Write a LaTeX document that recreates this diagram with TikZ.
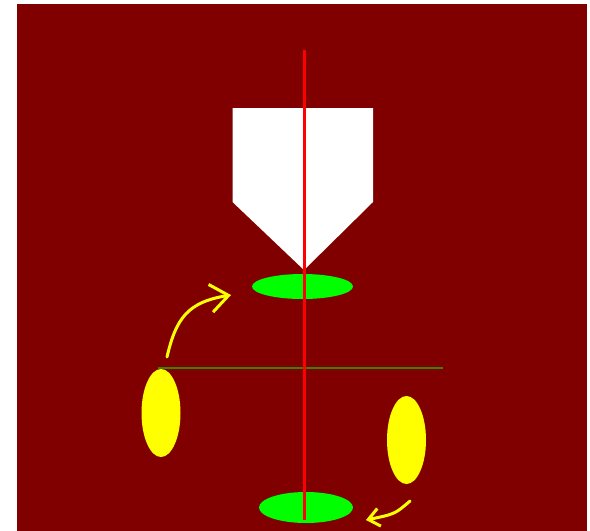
\documentclass[tikz,border=0pt]{standalone}
\usetikzlibrary{arrows.meta,shapes.geometric}
\definecolor{bgred}{RGB}{128,0,0}
\definecolor{brightgreen}{RGB}{0,255,0}
\definecolor{olivegreen}{RGB}{60,130,0}
\definecolor{yel}{RGB}{255,255,0}
\begin{document}
\begin{tikzpicture}[x=1pt,y=-1pt,
  greenell/.style={ellipse,fill=brightgreen,draw=none,inner sep=0pt},
  yellowell/.style={ellipse,fill=yel,draw=none,inner sep=0pt,minimum width=39pt,minimum height=88pt},
  yarrow/.style={draw=yel,line width=3pt,line cap=round}]
\useasboundingbox (0,0) rectangle (590,531);
\fill[white] (0,0) rectangle (590,531);
\fill[bgred] (17,4) rectangle (587,531);
% white pentagon
\fill[white] (232.5,108) -- (373,108) -- (373,202) -- (304,270) -- (232.5,202) -- cycle;
% green ellipses
\node[greenell,minimum width=101pt,minimum height=25pt] (gtop) at (302.5,286.5) {};
\node[greenell,minimum width=94pt,minimum height=31pt] (gbot) at (306,507.5) {};
% yellow ellipses
\node[yellowell] (yleft) at (161,413) {};
\node[yellowell] (yright) at (406.5,440) {};
% green horizontal line
\coordinate (hl) at (158,368);
\coordinate (hr) at (443,368);
\draw[olivegreen,line width=1.5pt] (hl) -- (hr);
% red axis
\coordinate (rtop) at (304.5,50);
\coordinate (rbot) at (304.5,520);
\draw[red,line width=2.5pt] (rtop) -- (rbot);
% yellow arrows
\coordinate (a1s) at (167,357);
\coordinate (a1e) at (231,295);
\draw[yarrow,-{Straight Barb[length=18pt,width=28pt,line width=3pt]}] (a1s) .. controls (176,318) and (188,302) .. (a1e);
\coordinate (a2s) at (410,501);
\coordinate (a2e) at (366,520);
\draw[yarrow,-{Straight Barb[length=11pt,width=18pt,line width=3pt]}] (a2s) .. controls (395,514) .. (a2e);
\end{tikzpicture}
\end{document}
